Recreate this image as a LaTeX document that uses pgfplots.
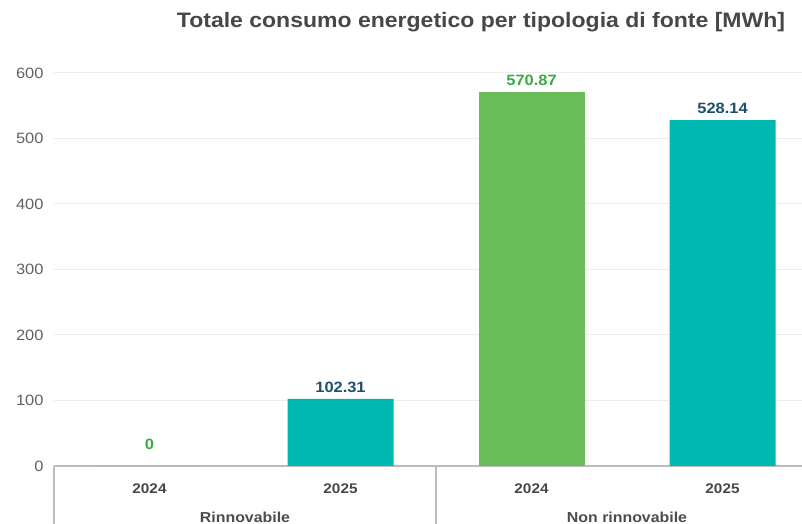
\documentclass[border=0pt]{standalone}
\usepackage{fontspec}
\setmainfont{Liberation Sans}[FakeStretch=1.1]
\usepackage{pgfplots}
\pgfplotsset{compat=1.18}
\definecolor{bargreen}{HTML}{6BBD5B}
\definecolor{barteal}{HTML}{00B8B2}
\definecolor{labgreen}{HTML}{3BA845}
\definecolor{labblue}{HTML}{1C4F6E}
\definecolor{tickgray}{HTML}{555555}
\definecolor{axgray}{HTML}{BBBBBB}
\begin{document}
\begin{tikzpicture}[x=1bp,y=1bp]
\path[use as bounding box] (0,0) rectangle (802,524);
\clip (0,0) rectangle (802,524);
\begin{axis}[
  at={(54bp,58bp)}, anchor=south west,
  scale only axis, width=764bp, height=393bp,
  xmin=-0.5, xmax=3.5, ymin=0, ymax=600,
  ytick={0,100,...,600},
  xtick={0,1,2,3},
  xticklabels={2024,2025,2024,2025},
  x tick label style={font=\fontsize{14}{16}\selectfont\bfseries, text=black!72, yshift=-14bp},
  y tick label style={font=\fontsize{15}{17}\selectfont, text=black!62, xshift=-7bp},
  /pgf/number format/assume math mode=true,
  major tick length=0pt,
  ymajorgrids, grid style={draw=black!7, line width=1bp},
  axis x line*=bottom, axis y line*=left,
  y axis line style={draw=none},
  x axis line style={draw=axgray, line width=1.8bp},
  bar width=106bp,
  clip=false,
  every node near coord/.append style={font=\fontsize{15}{17}\selectfont\bfseries, yshift=3bp},
]
\addplot[ybar, fill=bargreen, draw=none, bar shift=0pt,
  nodes near coords={\pgfmathprintnumber[fixed,precision=2]{\pgfplotspointmeta}},
  every node near coord/.append style={text=labgreen}]
  coordinates {(2,570.87)};
\addplot[ybar, fill=bargreen, draw=none, bar shift=0pt,
  nodes near coords={\pgfmathprintnumber[fixed,precision=2]{\pgfplotspointmeta}},
  every node near coord/.append style={text=labgreen, yshift=10bp}]
  coordinates {(0,0)};
\addplot[ybar, fill=barteal, draw=none, bar shift=0pt,
  nodes near coords={\pgfmathprintnumber[fixed,precision=2,fixed zerofill]{\pgfplotspointmeta}},
  every node near coord/.append style={text=labblue}]
  coordinates {(1,102.31) (3,528.14)};
\draw[axgray, line width=1.4bp] (axis cs:-0.5,0) -- ([yshift=-70bp]axis cs:-0.5,0);
\draw[axgray, line width=1.4bp] (axis cs:1.5,0) -- ([yshift=-70bp]axis cs:1.5,0);
\draw[axgray, line width=1.4bp] (axis cs:3.5,0) -- ([yshift=-70bp]axis cs:3.5,0);
\node[font=\fontsize{14.5}{16}\selectfont\bfseries, text=black!70] at ([yshift=-51bp]axis cs:0.5,0) {Rinnovabile};
\node[font=\fontsize{14.5}{16}\selectfont\bfseries, text=black!70] at ([yshift=-51bp]axis cs:2.5,0) {Non rinnovabile};
\end{axis}
\node[font=\fontsize{21}{24}\selectfont\bfseries, text=black!72] at (481,502) {Totale consumo energetico per tipologia di fonte [MWh]};
\end{tikzpicture}
\end{document}
